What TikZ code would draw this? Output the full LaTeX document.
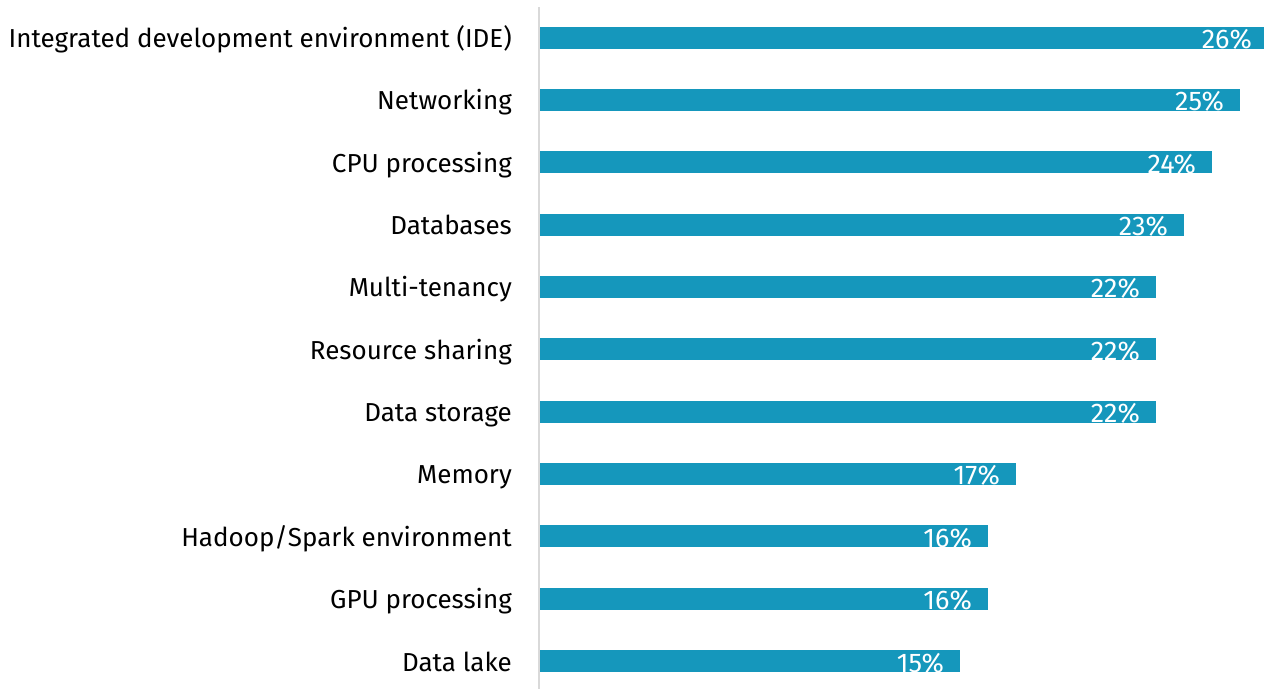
\documentclass[tikz,border=0pt]{standalone}
\usepackage{fontspec}
\setmainfont{Fira Sans}
\definecolor{barblue}{RGB}{21,151,188}
\definecolor{axisgray}{RGB}{217,217,217}
\begin{document}
\begin{tikzpicture}[x=1pt,y=-1pt,
  bar/.style={fill=barblue,draw=none},
  axisline/.style={draw=axisgray,line width=2pt},
  cat/.style={anchor=base east,font=\fontsize{26}{30}\selectfont,inner sep=0pt},
  val/.style={anchor=base east,text=white,font=\fontsize{27}{30}\selectfont,inner sep=0pt}]
\useasboundingbox (0,0) rectangle (1264,689);
\coordinate (axtop) at (539,7);
\coordinate (axbot) at (539,689);
\draw[axisline] (axtop) -- (axbot);
\foreach \i/\name/\v in {0/{Integrated development environment (IDE)}/26,1/Networking/25,2/CPU processing/24,3/Databases/23,4/Multi-tenancy/22,5/Resource sharing/22,6/Data storage/22,7/Memory/17,8/{Hadoop/Spark environment}/16,9/GPU processing/16,10/Data lake/15} {
  \pgfmathsetmacro\yc{37.5+62.35*\i}
  \pgfmathsetmacro\xr{540+28*\v}
  \pgfmathsetmacro\xe{min(\xr,1264)}
  \fill[bar] (540,\yc-11) rectangle (\xe,\yc+11);
  \node[cat] (c\i) at (512,\yc+10) {\name};
  \node[val] (v\i) at (\xr-16,\yc+11) {\v\%};
}
\end{tikzpicture}
\end{document}
